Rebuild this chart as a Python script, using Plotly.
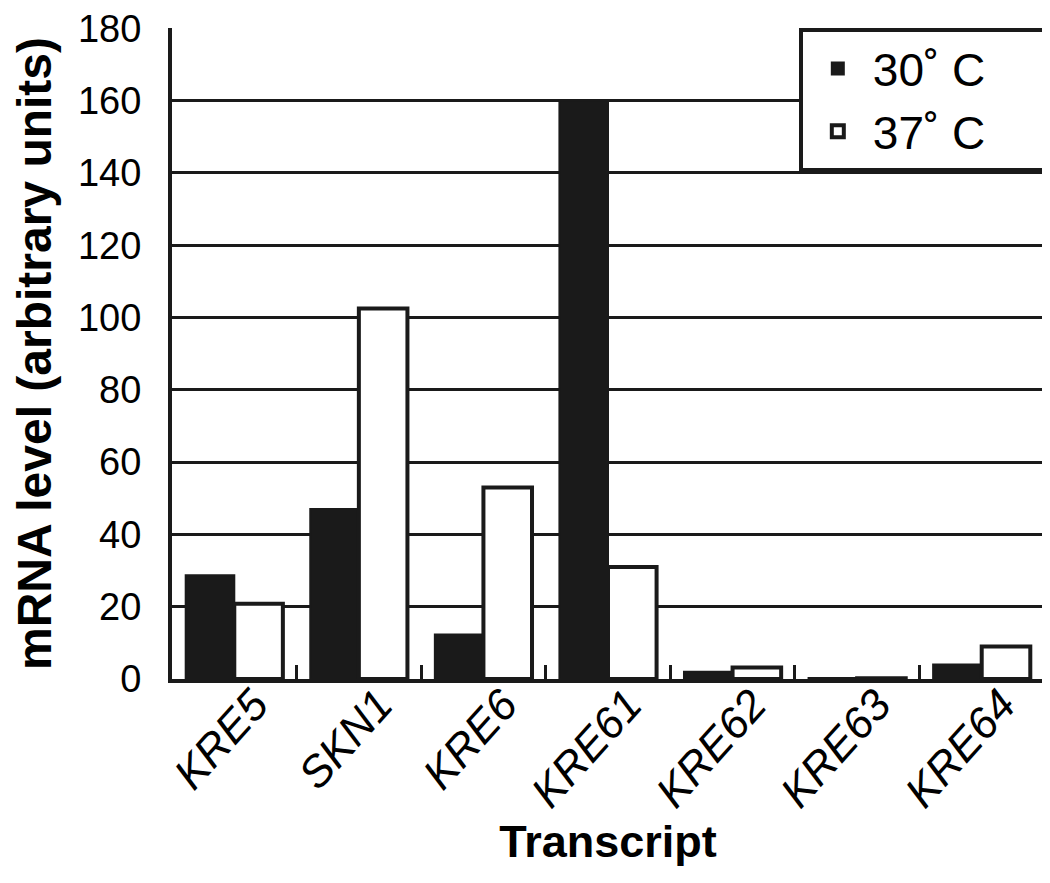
import plotly.graph_objects as go

transcripts = ["KRE5", "SKN1", "KRE6", "KRE61", "KRE62", "KRE63", "KRE64"]
level_30c = [28.7, 47, 12.3, 160, 2, 0.3, 4]
level_37c = [20.8, 102.5, 53, 31, 3.2, 0.2, 9]

fig = go.Figure()

# trailing no-break spaces widen the legend box like the original
pad = "\u00a0\u00a0\u00a0\u00a0\u200b"
fig.add_trace(go.Bar(
    x=transcripts, y=level_30c, name="30˚ C" + pad,
    marker=dict(color="#1a1a1a", line=dict(color="#1a1a1a", width=2)),
))
fig.add_trace(go.Bar(
    x=transcripts, y=level_37c, name="37˚ C" + pad,
    marker=dict(color="white", line=dict(color="#1a1a1a", width=4)),
))

# page body has an 8px margin, so the figure is a little smaller than the window
fig.update_layout(
    width=1042, height=875,
    margin=dict(l=164, r=5, t=20, b=204),
    plot_bgcolor="white", paper_bgcolor="white",
    barmode="group", bargap=0.22, bargroupgap=0.0,
    font=dict(family="Liberation Sans, Arial, sans-serif", color="black"),
    legend=dict(
        x=0.718, y=1.0, xanchor="left", yanchor="top",
        bgcolor="white", bordercolor="#1a1a1a", borderwidth=4,
        font=dict(size=46, color="black"),
        itemwidth=60,
    ),
    showlegend=True,
)

fig.update_xaxes(
    tickvals=transcripts,
    ticktext=["<i>%s</i>" % t for t in transcripts],
    tickangle=-48,
    tickfont=dict(size=44),
    ticklabelshift=20, ticklabelstandoff=-22,
    ticks="inside", tickson="boundaries", ticklen=14, tickwidth=3, tickcolor="#1a1a1a",
    showline=True, linecolor="#1a1a1a", linewidth=4,
    automargin=False,
    title=dict(text="<b>Transcript</b>", font=dict(size=45), standoff=10),
)

fig.update_yaxes(
    range=[0, 180.1], dtick=20,
    tickfont=dict(size=38),
    ticks="inside", ticklen=10, tickwidth=3, tickcolor="#1a1a1a",
    ticklabelstandoff=19, ticklabeloverflow="allow",
    showgrid=True, gridcolor="#1a1a1a", gridwidth=3,
    showline=True, linecolor="#1a1a1a", linewidth=4, mirror=True,
    zeroline=False,
    automargin=False,
    title=dict(text="<b>mRNA level (arbitrary units)</b>", font=dict(size=48), standoff=40),
)

fig.write_html("out.html")
